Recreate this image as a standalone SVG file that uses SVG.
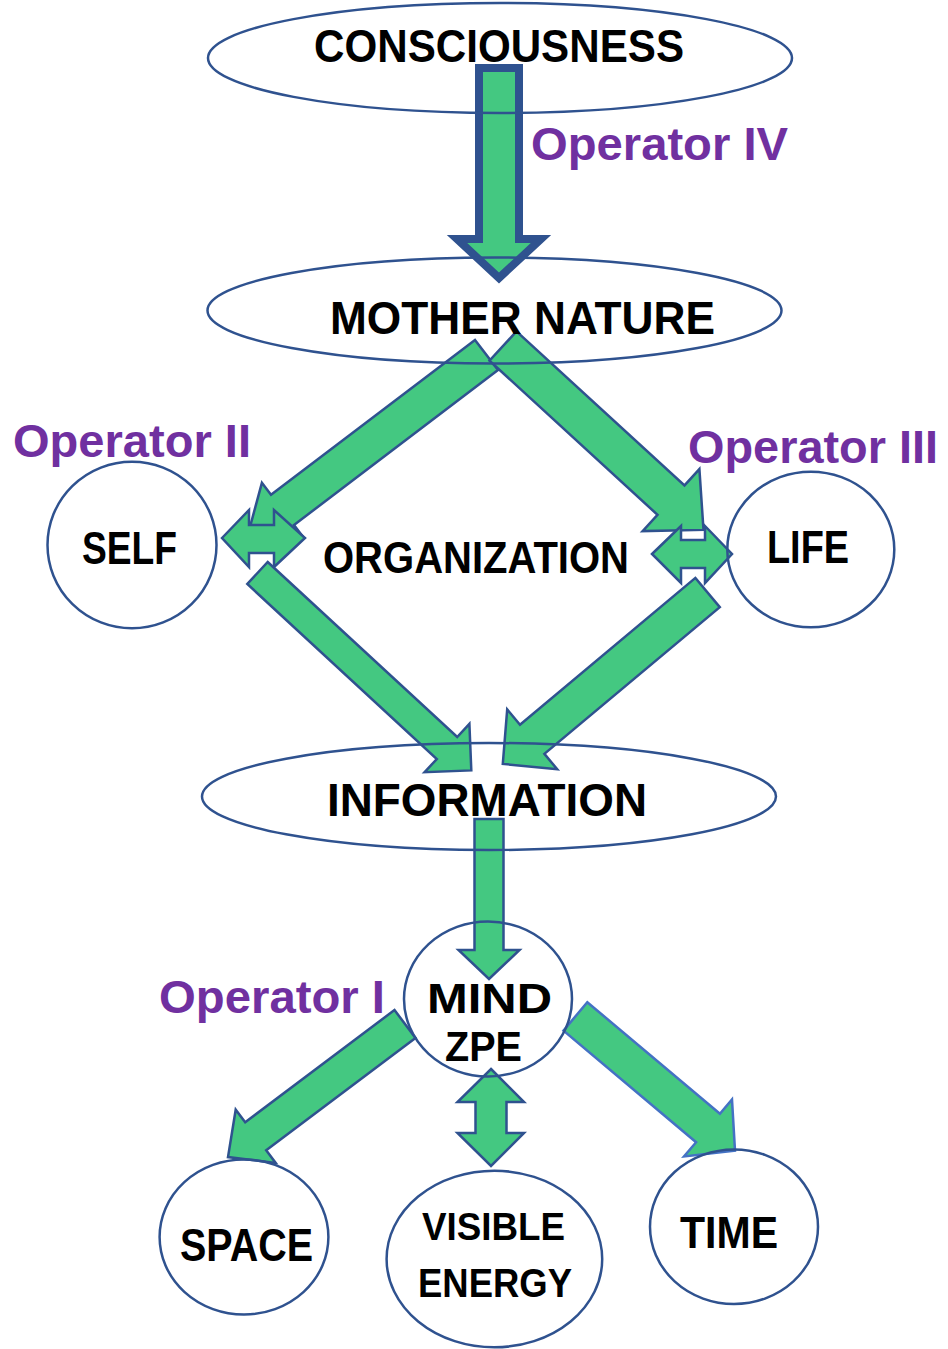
<svg xmlns="http://www.w3.org/2000/svg" width="948" height="1349" viewBox="0 0 948 1349">
<style>
.arr{fill:#44C881;stroke:#2F528F;stroke-width:2.5;stroke-linejoin:miter}
.node{fill:none;stroke:#2F528F;stroke-width:2.5}
.lbl{font-family:"Liberation Sans",Arial,sans-serif;font-weight:700;fill:#000}
.op{font-family:"Liberation Sans",Arial,sans-serif;font-weight:700;font-size:47px;fill:#7030A0}
</style>
<rect width="948" height="1349" fill="#fff"/>
<g id="connectors">
  <polygon id="c-cons-mn" points="479,68 519,68 519,239 541,239 499,278 457,239 479,239" style="fill:#44C881;stroke:#2F528F;stroke-width:8;stroke-linejoin:miter"/>
  <polygon id="c-mn-self" class="arr" points="475,339.9 271,494.8 261.9,482.8 247.4,536.5 303.1,537 294,525 498,370.1"/>
  <polygon id="c-mn-life" class="arr" points="516.5,331.3 684.5,485.4 699.4,469.1 703.5,529.9 642.6,531.1 657.5,514.8 489.5,360.7"/>
  <polygon id="c-self-org" class="arr" points="222,538 249,510 249,525 274,525 274,510 305,538 274,567 274,553 249,553 249,567"/>
  <polygon id="c-org-life" class="arr" points="652,554 681,526 681,540 705,540 705,526 732,554 705,583 705,568 681,568 681,583"/>
  <polygon id="c-self-info" class="arr" points="267.7,562 457.2,737 469.4,723.8 471.3,770.4 424.6,772.2 436.8,759 247.3,584"/>
  <polygon id="c-life-info" class="arr" points="695.4,577.9 520,724.7 507.2,709.4 502.8,763.9 557.2,769.2 544.4,753.9 719.8,607.1"/>
  <polygon id="c-info-mind" class="arr" points="474.5,819 503.5,819 503.5,950 519.5,950 489,979 458.5,950 474.5,950"/>
  <polygon id="c-mind-space" class="arr" points="394.5,1010 245.2,1122.3 235.7,1109.7 228,1157.1 275.7,1162.9 266.2,1150.3 415.5,1038"/>
  <polygon id="c-mind-time" class="arr" style="stroke:#4472C4" points="587.3,1002.2 719.9,1113.8 732,1099.5 735,1150.7 684,1156.5 696.1,1142.2 563.5,1030.6"/>
  <polygon id="c-mind-energy" class="arr" points="491,1069 524,1102 506.5,1102 506.5,1133 524,1133 491,1166 457.5,1133 475.5,1133 475.5,1102 457.5,1102"/>
</g>
<g id="operator-labels">
  <text class="op" x="531" y="160" textLength="257" lengthAdjust="spacingAndGlyphs">Operator IV</text>
  <text class="op" x="13" y="457" textLength="238" lengthAdjust="spacingAndGlyphs">Operator II</text>
  <text class="op" x="688" y="463" textLength="250" lengthAdjust="spacingAndGlyphs">Operator III</text>
  <text class="op" x="159" y="1013" textLength="226" lengthAdjust="spacingAndGlyphs">Operator I</text>
</g>
<g id="consciousness">
  <ellipse class="node" cx="500" cy="58" rx="292" ry="55"/>
  <text class="lbl" x="314" y="62" font-size="47" textLength="370" lengthAdjust="spacingAndGlyphs">CONSCIOUSNESS</text>
</g>
<g id="mother-nature">
  <ellipse class="node" cx="494.5" cy="310.5" rx="287" ry="53"/>
  <text class="lbl" x="330" y="334" font-size="47" textLength="385" lengthAdjust="spacingAndGlyphs">MOTHER NATURE</text>
</g>
<g id="organization">
  <text class="lbl" x="323" y="572.5" font-size="44" textLength="306" lengthAdjust="spacingAndGlyphs">ORGANIZATION</text>
</g>
<g id="self">
  <ellipse class="node" cx="132" cy="545" rx="84.5" ry="83.3"/>
  <text class="lbl" x="82" y="564" font-size="47" textLength="95" lengthAdjust="spacingAndGlyphs">SELF</text>
</g>
<g id="life">
  <ellipse class="node" cx="810.8" cy="549.5" rx="83.5" ry="77.8"/>
  <text class="lbl" x="767" y="563" font-size="47" textLength="82" lengthAdjust="spacingAndGlyphs">LIFE</text>
</g>
<g id="information">
  <ellipse class="node" cx="489" cy="796.5" rx="287" ry="53.5"/>
  <text class="lbl" x="327" y="816" font-size="46" textLength="320" lengthAdjust="spacingAndGlyphs">INFORMATION</text>
</g>
<g id="mind-zpe">
  <ellipse class="node" cx="488" cy="999" rx="84" ry="77.5"/>
  <text class="lbl" x="427" y="1013" font-size="42" textLength="125" lengthAdjust="spacingAndGlyphs">MIND</text>
  <text class="lbl" x="445" y="1061" font-size="42" textLength="77" lengthAdjust="spacingAndGlyphs">ZPE</text>
</g>
<g id="space">
  <ellipse class="node" cx="244" cy="1237" rx="84.4" ry="77.5"/>
  <text class="lbl" x="180" y="1261" font-size="46" textLength="133" lengthAdjust="spacingAndGlyphs">SPACE</text>
</g>
<g id="visible-energy">
  <ellipse class="node" cx="494.4" cy="1259" rx="107.8" ry="88.3"/>
  <text class="lbl" x="422" y="1240" font-size="38" textLength="143" lengthAdjust="spacingAndGlyphs">VISIBLE</text>
  <text class="lbl" x="418" y="1297" font-size="40" textLength="154" lengthAdjust="spacingAndGlyphs">ENERGY</text>
</g>
<g id="time">
  <ellipse class="node" cx="734" cy="1226.7" rx="84" ry="77.3"/>
  <text class="lbl" x="680" y="1248" font-size="44" textLength="98" lengthAdjust="spacingAndGlyphs">TIME</text>
</g>
</svg>
